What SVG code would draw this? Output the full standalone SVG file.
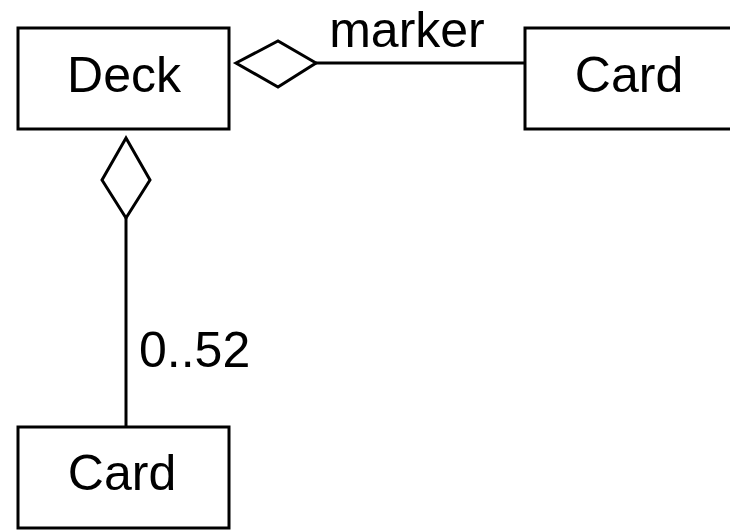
<svg xmlns="http://www.w3.org/2000/svg" width="730" height="530" viewBox="0 0 730 530">
<style>
.box{fill:#fff;stroke:#000;stroke-width:3}
.lbl{font-family:"Liberation Sans",Arial,sans-serif;font-size:50px;fill:#000}
.edge{fill:none;stroke:#000;stroke-width:3}
.dia{fill:#fff;stroke:#000;stroke-width:3;stroke-linejoin:miter}
</style>
<rect width="730" height="530" fill="#fff"/>
<g id="connectors">
<line class="edge" x1="316" y1="63" x2="525" y2="63"/>
<polygon class="dia" points="236,63 278,41 316,63 278,87"/>
<text class="lbl" x="407" y="47" text-anchor="middle">marker</text>
<line class="edge" x1="126" y1="218" x2="126" y2="427"/>
<polygon class="dia" points="126,138 150,180 126,218 102,180"/>
<text class="lbl" x="139" y="367">0..52</text>
</g>
<g id="deck">
<rect class="box" x="18" y="28" width="211" height="101"/>
<text class="lbl" x="124" y="92" text-anchor="middle">Deck</text>
</g>
<g id="card-right">
<rect class="box" x="525" y="28" width="211" height="101"/>
<text class="lbl" x="629" y="92" text-anchor="middle">Card</text>
</g>
<g id="card-bottom">
<rect class="box" x="18" y="427" width="211" height="101"/>
<text class="lbl" x="122" y="490" text-anchor="middle">Card</text>
</g>
</svg>
